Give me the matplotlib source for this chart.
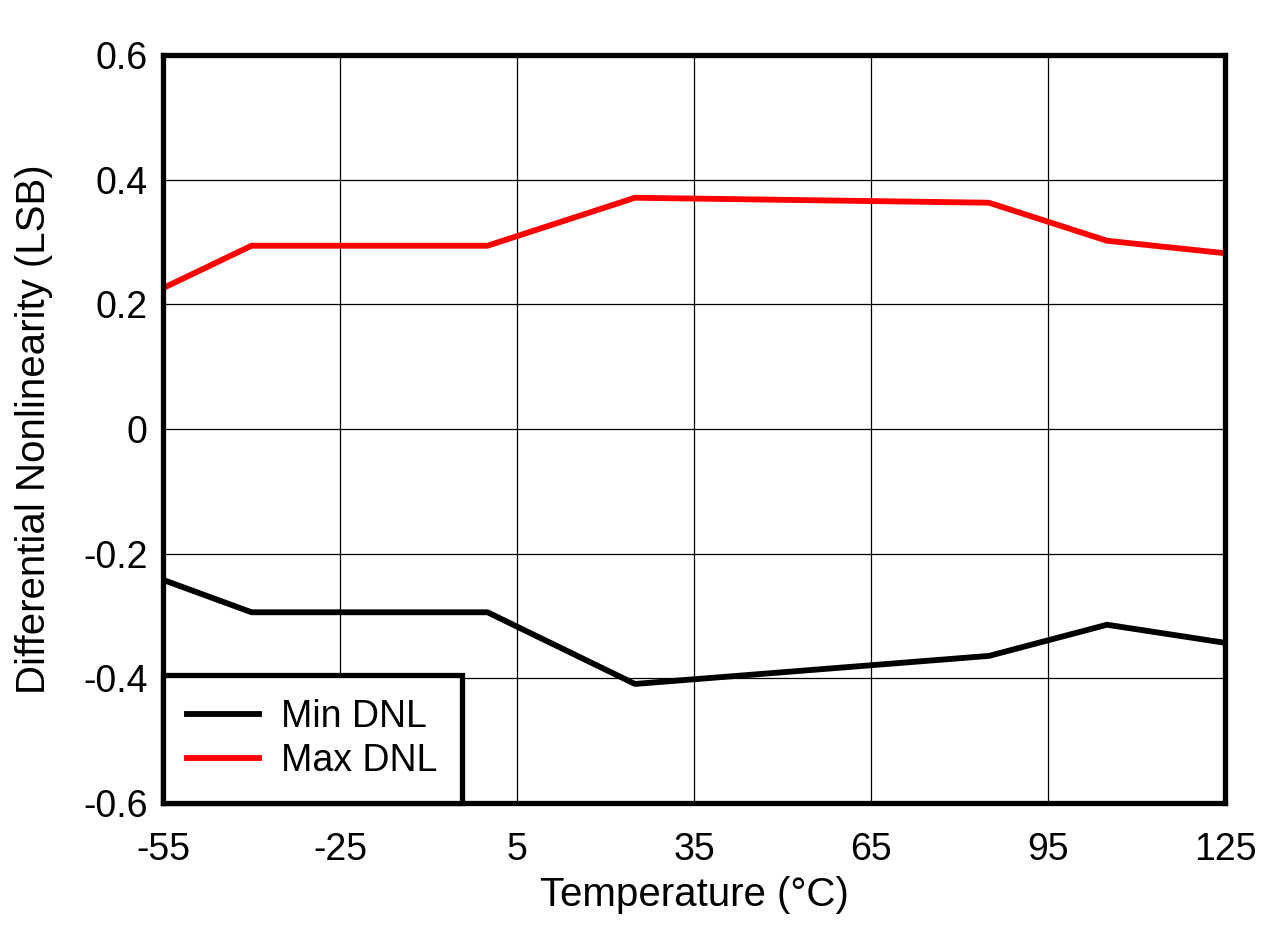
import matplotlib
matplotlib.use("Agg")
from matplotlib import pyplot as plt

plt.rcParams['font.family'] = ['Liberation Sans', 'DejaVu Sans']
plt.rcParams['axes.unicode_minus'] = False

temperature = [-55, -40, 0, 25, 85, 105, 125]
min_dnl = [-0.242, -0.294, -0.294, -0.409, -0.364, -0.314, -0.343]
max_dnl = [0.226, 0.294, 0.294, 0.371, 0.363, 0.302, 0.282]
x_ticks = [-55, -25, 5, 35, 65, 95, 125]
y_ticks = [-0.6, -0.4, -0.2, 0, 0.2, 0.4, 0.6]
y_labels = ['-0.6', '-0.4', '-0.2', '0', '0.2', '0.4', '0.6']

fig = plt.figure(figsize=(12.86, 9.27), dpi=100)
ax = fig.add_axes([163 / 1286, 1 - 803 / 927, (1225 - 163) / 1286, (803 - 55) / 927])

ax.plot(temperature, min_dnl, color='black', lw=4.2, label='Min DNL', zorder=3)
ax.plot(temperature, max_dnl, color='#ff0000', lw=4.2, label='Max DNL', zorder=3)

ax.set_xlim(-55, 125)
ax.set_ylim(-0.6, 0.6)
ax.set_xticks(x_ticks)
ax.set_yticks(y_ticks)
ax.set_yticklabels(y_labels)
ax.grid(True, color='black', lw=0.9)
ax.tick_params(length=0, labelsize=27)
ax.tick_params(axis='x', pad=21)
ax.tick_params(axis='y', pad=11)

for s in ax.spines.values():
    s.set_linewidth(3.8)
    s.set_zorder(5)

ax.set_xlabel('Temperature (°C)', fontsize=29, labelpad=6)
ax.set_ylabel('Differential Nonlinearity (LSB)', fontsize=29, labelpad=22)

leg = ax.legend(loc='lower left', fontsize=27, fancybox=False, framealpha=1,
                edgecolor='black', borderaxespad=0, handlelength=1.9,
                handletextpad=0.6, borderpad=0.65, labelspacing=0.2)
leg.get_frame().set_linewidth(3.8)
leg.set_zorder(6)

fig.savefig('out.png', dpi=100, facecolor='white')
